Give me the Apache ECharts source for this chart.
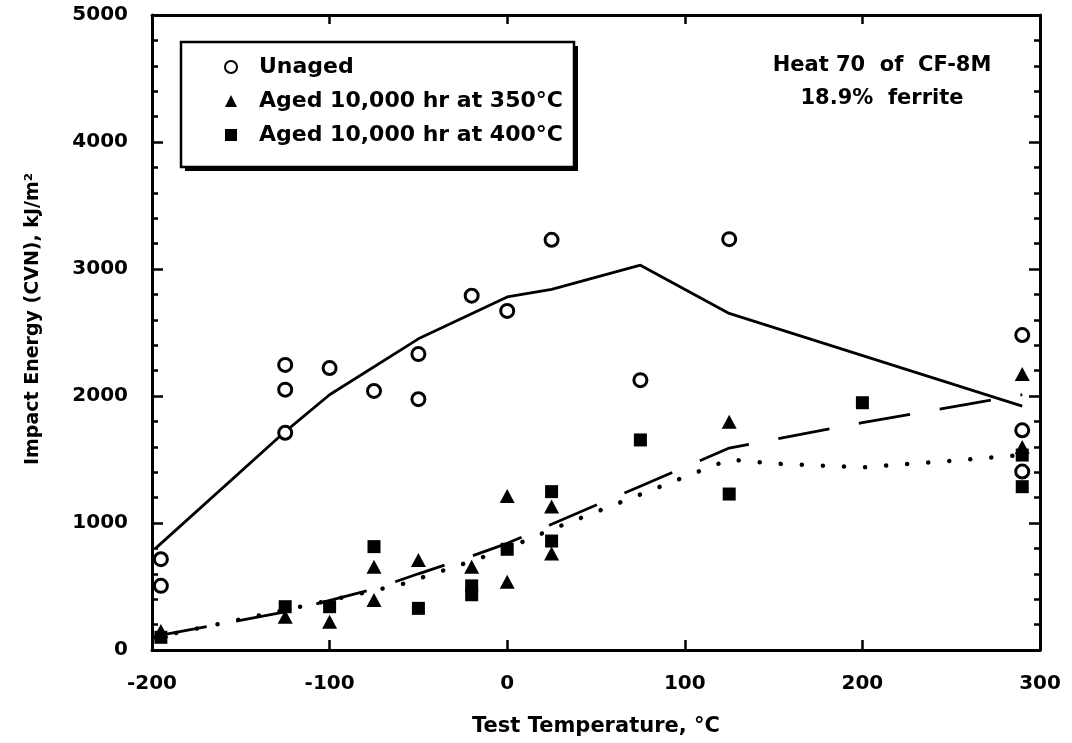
<!DOCTYPE html>
<html><head><meta charset="utf-8">
<script src="https://cdn.jsdelivr.net/npm/echarts@6/dist/echarts.min.js"></script>
<style>html,body{margin:0;padding:0;background:#fff}#c{width:1072px;height:743px}</style>
</head><body><div id="c"></div>
<script>
// ---- data ----
const xTicks = [-200, -100, 0, 100, 200, 300];
const yTicks = [0, 1000, 2000, 3000, 4000, 5000];
const seriesNames = ['Unaged', 'Aged 10,000 hr at 350°C', 'Aged 10,000 hr at 400°C'];
const unagedPts = [[-195,715],[-195,505],[-125,2245],[-125,2050],[-125,1710],[-100,2220],[-75,2040],[-50,2330],[-50,1975],[-20,2790],[0,2670],[25,3230],[75,2125],[125,3235],[290,2480],[290,1730],[290,1405]];
const aged350Pts = [[-195,150],[-125,262],[-100,223],[-75,656],[-75,394],[-50,709],[-20,656],[0,1213],[0,538],[25,1129],[25,760],[125,1798],[290,2173],[290,1598]];
const aged400Pts = [[-195,100],[-125,341],[-100,341],[-75,814],[-50,328],[-20,505],[-20,435],[0,793],[25,1247],[25,858],[75,1654],[125,1228],[200,1947],[290,1535],[290,1286]];
const unagedCurve = [[-198,800],[-125,1720],[-100,2010],[-50,2450],[0,2780],[25,2840],[75,3030],[125,2650],[290,1920]];
const aged350Curve = [[-198,110],[-125,300],[-75,480],[-50,600],[-20,740],[0,840],[25,990],[75,1290],[125,1590],[200,1790],[290,2010]];
const aged400Curve = [[-198,100],[-110,360],[-60,515],[-20,700],[0,800],[25,950],[75,1225],[125,1500],[150,1468],[200,1438],[250,1490],[290,1535]];
const noteLines = ['Heat 70  of  CF-8M', '18.9%  ferrite'];
const xTitle = 'Test Temperature, °C';
const yTitle = 'Impact Energy (CVN), kJ/m²';

const FONT = 'DejaVu Sans';
const chart = echarts.init(document.getElementById('c'), null, {renderer:'canvas'});
const axisLine = {show:true, onZero:false, lineStyle:{color:'#000', width:3}};
const tickStyle = {color:'#000', width:2.5};
const xCommon = {type:'value', min:xTicks[0], max:xTicks[xTicks.length-1], interval:100, splitLine:{show:false}, axisLine};
const yCommon = {type:'value', min:yTicks[0], max:yTicks[yTicks.length-1], interval:1000, splitLine:{show:false}, axisLine,
  minorTick:{show:true, splitNumber:5, length:6, lineStyle:tickStyle}, minorSplitLine:{show:false}};
const labelStyle = {color:'#000', fontFamily:FONT, fontWeight:'bold', fontSize:20, formatter:v => String(v)};
chart.setOption({
  animation:false,
  backgroundColor:'#fff',
  grid:{left:152, right:32, top:15, bottom:93},
  xAxis:[
    Object.assign({}, xCommon, {position:'bottom', axisTick:{inside:true, length:10, lineStyle:tickStyle},
      axisLabel:Object.assign({margin:24}, labelStyle),
      name:xTitle, nameLocation:'middle', nameGap:66, nameTextStyle:{color:'#000', fontFamily:FONT, fontWeight:'bold', fontSize:21}}),
    Object.assign({}, xCommon, {position:'top', axisTick:{inside:true, length:9, lineStyle:tickStyle}, axisLabel:{show:false}})
  ],
  yAxis:[
    Object.assign({}, yCommon, {position:'left', axisTick:{inside:true, length:11, lineStyle:tickStyle},
      axisLabel:Object.assign({margin:24}, labelStyle)}),
    Object.assign({}, yCommon, {position:'right', axisTick:{inside:true, length:11, lineStyle:tickStyle}, axisLabel:{show:false}})
  ],
  legend:{
    orient:'vertical', left:181, top:42, z:10,
    data:seriesNames,
    itemWidth:12, itemHeight:12, itemGap:10,
    padding:[13, 24, 20, 43],
    selectedMode:false,
    textStyle:{color:'#000', fontFamily:FONT, fontWeight:'bold', fontSize:22, lineHeight:24, padding:[0,0,0,17]}
  },
  graphic:[
    {type:'rect', z:5, shape:{x:185, y:46, width:393, height:125}, style:{fill:'#000'}},
    {type:'rect', z:6, shape:{x:181, y:42, width:393, height:125}, style:{fill:'#fff', stroke:'#000', lineWidth:2.5}},
    {type:'text', z:6, style:{text:noteLines.join('\n'), x:882, y:49, align:'center', verticalAlign:'top', fill:'#000',
      font:'bold 21px "DejaVu Sans"', lineHeight:33}},
    {type:'text', z:6, x:33, y:319, rotation:Math.PI/2, style:{text:yTitle, x:0, y:0, align:'center', verticalAlign:'middle', fill:'#000',
      font:'bold 19px "DejaVu Sans"'}}
  ],
  series:[
    {type:'line', data:aged350Curve, showSymbol:false, symbol:'none', lineStyle:{color:'#000', width:2.8, type:[52,30]}, z:1, silent:true},
    {type:'line', data:aged400Curve, showSymbol:false, symbol:'none', lineStyle:{color:'#000', width:4.5, type:[0.1,21], cap:'round'}, z:1, silent:true},
    {type:'line', data:unagedCurve, showSymbol:false, symbol:'none', lineStyle:{color:'#000', width:2.8}, z:1, silent:true},
    {name:seriesNames[0], type:'scatter', data:unagedPts, symbol:'circle', symbolSize:13, itemStyle:{color:'#fff', borderColor:'#000', borderWidth:3, opacity:1}, z:3},
    {name:seriesNames[1], type:'scatter', data:aged350Pts, symbol:'triangle', symbolSize:[15,14], itemStyle:{color:'#000', opacity:1}, z:3},
    {name:seriesNames[2], type:'scatter', data:aged400Pts, symbol:'rect', symbolSize:13, itemStyle:{color:'#000', opacity:1}, z:3}
  ]
});
</script></body></html>
